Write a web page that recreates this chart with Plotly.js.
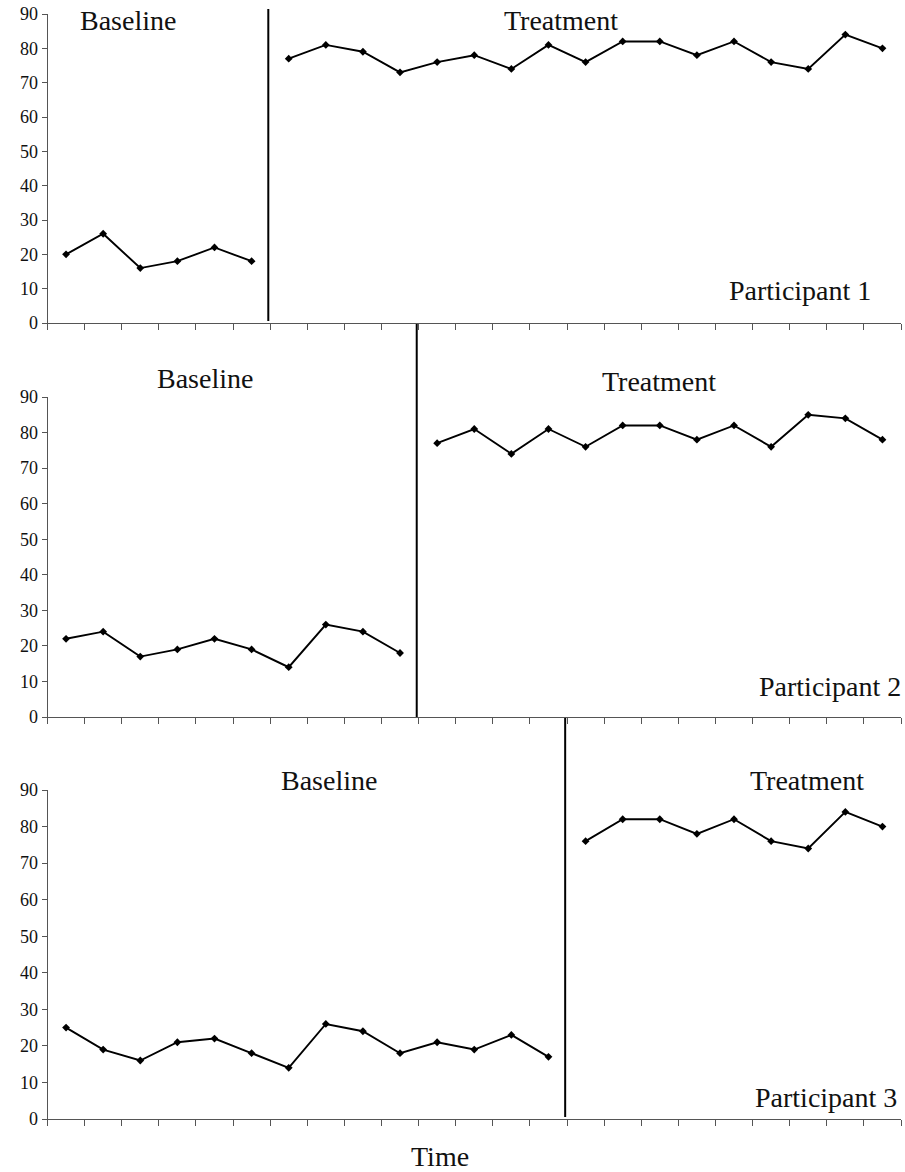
<!DOCTYPE html>
<html>
<head>
<meta charset="utf-8">
<script src="https://cdn.plot.ly/plotly-3.0.1.min.js"></script>
<style>
  html, body { margin: 0; padding: 0; background: #fff; }
  #chart { width: 905px; height: 1172px; }
</style>
</head>
<body>
<div id="chart"></div>
<script>
// Multiple-baseline design: three participants, sessions 1..23
const sessions = Array.from({length: 23}, (_, i) => i + 1);

const p1Baseline  = [20, 26, 16, 18, 22, 18];
const p1Treatment = [77, 81, 79, 73, 76, 78, 74, 81, 76, 82, 82, 78, 82, 76, 74, 84, 80];

const p2Baseline  = [22, 24, 17, 19, 22, 19, 14, 26, 24, 18];
const p2Treatment = [77, 81, 74, 81, 76, 82, 82, 78, 82, 76, 85, 84, 78];

const p3Baseline  = [25, 19, 16, 21, 22, 18, 14, 26, 24, 18, 21, 19, 23, 17];
const p3Treatment = [76, 82, 82, 78, 82, 76, 74, 84, 80];

const participantLabels = ['Participant 1', 'Participant 2', 'Participant 3'];
const phaseLabels = ['Baseline', 'Treatment'];
const yTicks = [0, 10, 20, 30, 40, 50, 60, 70, 80, 90];
const xLabel = 'Time';

const W = 905, H = 1172;
const px = v => v / W;          // horizontal pixel -> paper
const py = v => 1 - v / H;      // vertical pixel -> paper

const FONT = "'Liberation Serif', 'Times New Roman', serif";
const AXIS_COLOR = '#555';

const participants = [
  {base: p1Baseline, treat: p1Treatment, top: 14,  bottom: 323},
  {base: p2Baseline, treat: p2Treatment, top: 397, bottom: 717},
  {base: p3Baseline, treat: p3Treatment, top: 790, bottom: 1119}
];

const traces = [];
const layout = {
  width: W, height: H,
  margin: {l: 0, r: 0, t: 0, b: 0},
  paper_bgcolor: '#fff', plot_bgcolor: '#fff',
  showlegend: false,
  font: {family: FONT, color: '#111', size: 18},
  shapes: [], annotations: []
};

// vertical extent of each phase-change line (pixels)
const phaseLineSpan = [[9, 321], [324, 717], [718, 1117]];
// text placement (pixels): [baselineX, baselineY, treatmentX, treatmentY, participantRightX, participantY]
const textPos = [
  [128, 21, 561, 21, 873, 291],
  [205, 378, 659, 381, 903, 686],
  [329, 780, 807, 780, 899, 1097]
];

participants.forEach((p, i) => {
  const k = i + 1;
  const xa = 'xaxis' + (k === 1 ? '' : k);
  const ya = 'yaxis' + (k === 1 ? '' : k);
  const xr = 'x' + (k === 1 ? '' : k);
  const yr = 'y' + (k === 1 ? '' : k);
  const nb = p.base.length;

  const lineStyle = {color: '#000', width: 1.9};
  const markerStyle = {symbol: 'diamond', size: 6, color: '#000'};

  traces.push({
    x: sessions.slice(0, nb), y: p.base,
    xaxis: xr, yaxis: yr, type: 'scatter', mode: 'lines+markers',
    line: lineStyle, marker: markerStyle, hoverinfo: 'x+y'
  });
  traces.push({
    x: sessions.slice(nb, nb + p.treat.length), y: p.treat,
    xaxis: xr, yaxis: yr, type: 'scatter', mode: 'lines+markers',
    line: lineStyle, marker: markerStyle, hoverinfo: 'x+y'
  });

  layout[xa] = {
    domain: [px(47.5), px(901)],
    anchor: yr,
    range: [0.5, sessions.length + 0.5],
    tickmode: 'array',
    tickvals: sessions.map(s => s - 0.5).concat([sessions.length + 0.5]),
    showticklabels: false,
    ticks: 'outside', ticklen: 6, tickwidth: 1, tickcolor: AXIS_COLOR,
    showline: true, linecolor: AXIS_COLOR, linewidth: 1,
    showgrid: false, zeroline: false, fixedrange: true
  };
  layout[ya] = {
    domain: [py(p.bottom), py(p.top)],
    anchor: xr,
    range: [0, 90],
    tickmode: 'array', tickvals: yTicks, ticktext: yTicks.map(String),
    ticks: 'outside', ticklen: 5, tickwidth: 1, tickcolor: AXIS_COLOR,
    tickfont: {family: FONT, size: 18, color: '#111'},
    showline: true, linecolor: AXIS_COLOR, linewidth: 1,
    showgrid: false, zeroline: false, fixedrange: true
  };

  // phase-change line between the last baseline and first treatment session
  const phaseX = nb + 0.45;
  layout.shapes.push({
    type: 'line', xref: xr, yref: 'paper',
    x0: phaseX, x1: phaseX,
    y0: py(phaseLineSpan[i][1]), y1: py(phaseLineSpan[i][0]),
    line: {color: '#000', width: 2}
  });

  const t = textPos[i];
  const labelFont = {family: FONT, size: 28, color: '#111'};
  layout.annotations.push(
    {text: phaseLabels[0], xref: 'paper', yref: 'paper', x: px(t[0]), y: py(t[1]),
     xanchor: 'center', yanchor: 'middle', showarrow: false, font: labelFont},
    {text: phaseLabels[1], xref: 'paper', yref: 'paper', x: px(t[2]), y: py(t[3]),
     xanchor: 'center', yanchor: 'middle', showarrow: false, font: labelFont},
    {text: participantLabels[i], xref: 'paper', yref: 'paper', x: px(t[4]), y: py(t[5]),
     xanchor: 'right', yanchor: 'middle', showarrow: false, font: labelFont}
  );
});

layout.annotations.push({
  text: xLabel, xref: 'paper', yref: 'paper', x: px(440), y: py(1156),
  xanchor: 'center', yanchor: 'middle', showarrow: false,
  font: {family: FONT, size: 28, color: '#111'}
});

Plotly.newPlot('chart', traces, layout, {displayModeBar: false, staticPlot: true});
</script>
</body>
</html>
